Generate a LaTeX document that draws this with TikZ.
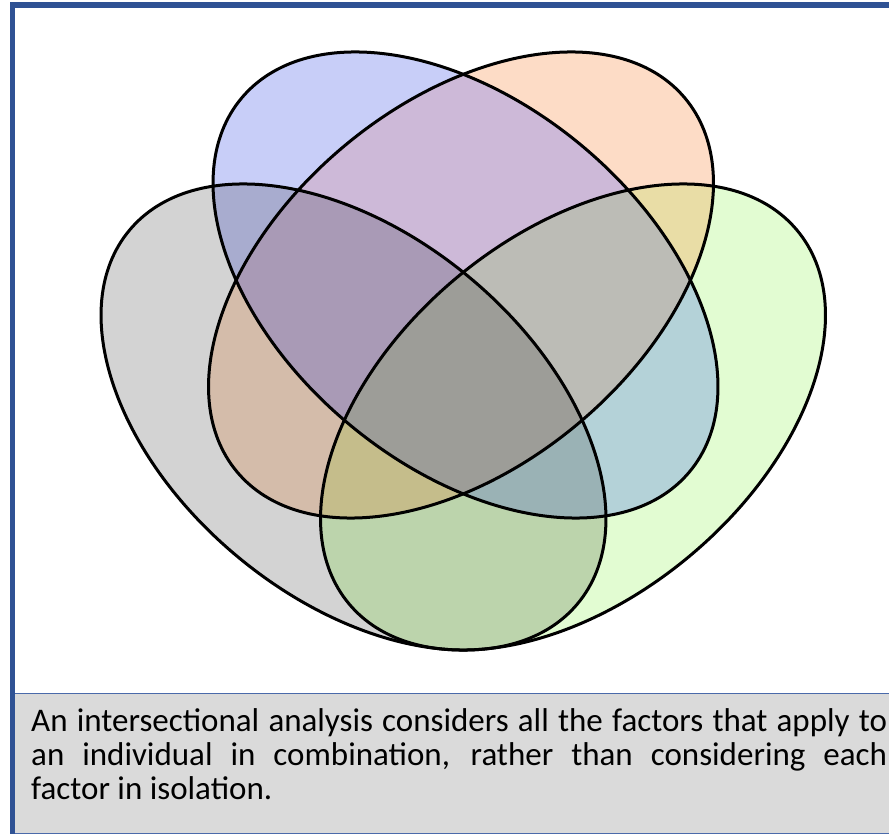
\documentclass[tikz,border=0pt]{standalone}
\usepackage{fontspec}
\setmainfont{Carlito}
\definecolor{frameblue}{HTML}{2F5294}
\definecolor{capline}{HTML}{4A6AAA}
\definecolor{capgray}{HTML}{DADADA}
\definecolor{cB}{HTML}{C8CEF8}
\definecolor{cO}{HTML}{FDDCC6}
\definecolor{cG}{HTML}{D3D3D3}
\definecolor{cN}{HTML}{E2FCD2}
\definecolor{cBO}{HTML}{CDB9D8}
\definecolor{cBG}{HTML}{A8ACCF}
\definecolor{cBN}{HTML}{B4D2D8}
\definecolor{cOG}{HTML}{D4BCAA}
\definecolor{cON}{HTML}{E9DDA6}
\definecolor{cGN}{HTML}{BCD4AC}
\definecolor{cBOG}{HTML}{A99AB6}
\definecolor{cBON}{HTML}{BCBCB6}
\definecolor{cBGN}{HTML}{9AB2B5}
\definecolor{cOGN}{HTML}{C5BD8B}
\definecolor{cBOGN}{HTML}{9D9D98}
\newcommand\vennB{(465.5,-285) ellipse [x radius=291.7pt, y radius=181.5pt, rotate=-39.8]}
\newcommand\vennO{(461,-285) ellipse [x radius=291.7pt, y radius=181.5pt, rotate=39.8]}
\newcommand\vennG{(353.5,-417) ellipse [x radius=291.7pt, y radius=181.5pt, rotate=-39.8]}
\newcommand\vennN{(573,-417) ellipse [x radius=291.7pt, y radius=181.5pt, rotate=39.8]}
\tikzset{
  outline/.style={draw=black, line width=3pt},
  captext/.style={anchor=base west, inner sep=0pt, font=\fontsize{33}{34}\selectfont}
}
\begin{document}
\begin{tikzpicture}[x=1pt,y=1pt]
\useasboundingbox (0,0) rectangle (889,-834);
% frame
\fill[capgray] (15,-693) rectangle (889,-834);
\draw[capline, line width=1.5pt] (15,-693.5) -- (889,-693.5);
\draw[capline, line width=1pt] (15,-833.5) -- (889,-833.5);
\fill[frameblue] (10,-2) rectangle (889,-8);
\fill[frameblue] (10,-2) rectangle (15,-834);
% single sets
\fill[cG] \vennG;
\fill[cN] \vennN;
\fill[cB] \vennB;
\fill[cO] \vennO;
% pairs
\begin{scope}\clip \vennB; \fill[cBO] \vennO; \end{scope}
\begin{scope}\clip \vennB; \fill[cBG] \vennG; \end{scope}
\begin{scope}\clip \vennB; \fill[cBN] \vennN; \end{scope}
\begin{scope}\clip \vennO; \fill[cOG] \vennG; \end{scope}
\begin{scope}\clip \vennO; \fill[cON] \vennN; \end{scope}
\begin{scope}\clip \vennG; \fill[cGN] \vennN; \end{scope}
% triples
\begin{scope}\clip \vennB; \clip \vennO; \fill[cBOG] \vennG; \end{scope}
\begin{scope}\clip \vennB; \clip \vennO; \fill[cBON] \vennN; \end{scope}
\begin{scope}\clip \vennB; \clip \vennG; \fill[cBGN] \vennN; \end{scope}
\begin{scope}\clip \vennO; \clip \vennG; \fill[cOGN] \vennN; \end{scope}
% all four
\begin{scope}\clip \vennB; \clip \vennO; \clip \vennG; \fill[cBOGN] \vennN; \end{scope}
% outlines
\draw[outline] \vennG;
\draw[outline] \vennN;
\draw[outline] \vennB;
\draw[outline] \vennO;
% caption
\node[captext] (cap1) at (31,-731) {\makebox[856pt][s]{An intersectional analysis considers all the factors that apply to}};
\node[captext] (cap2) at (31,-765) {\makebox[856pt][s]{an individual in combination, rather than considering each}};
\node[captext] (cap3) at (31,-799) {factor in isolation.};
\end{tikzpicture}
\end{document}
